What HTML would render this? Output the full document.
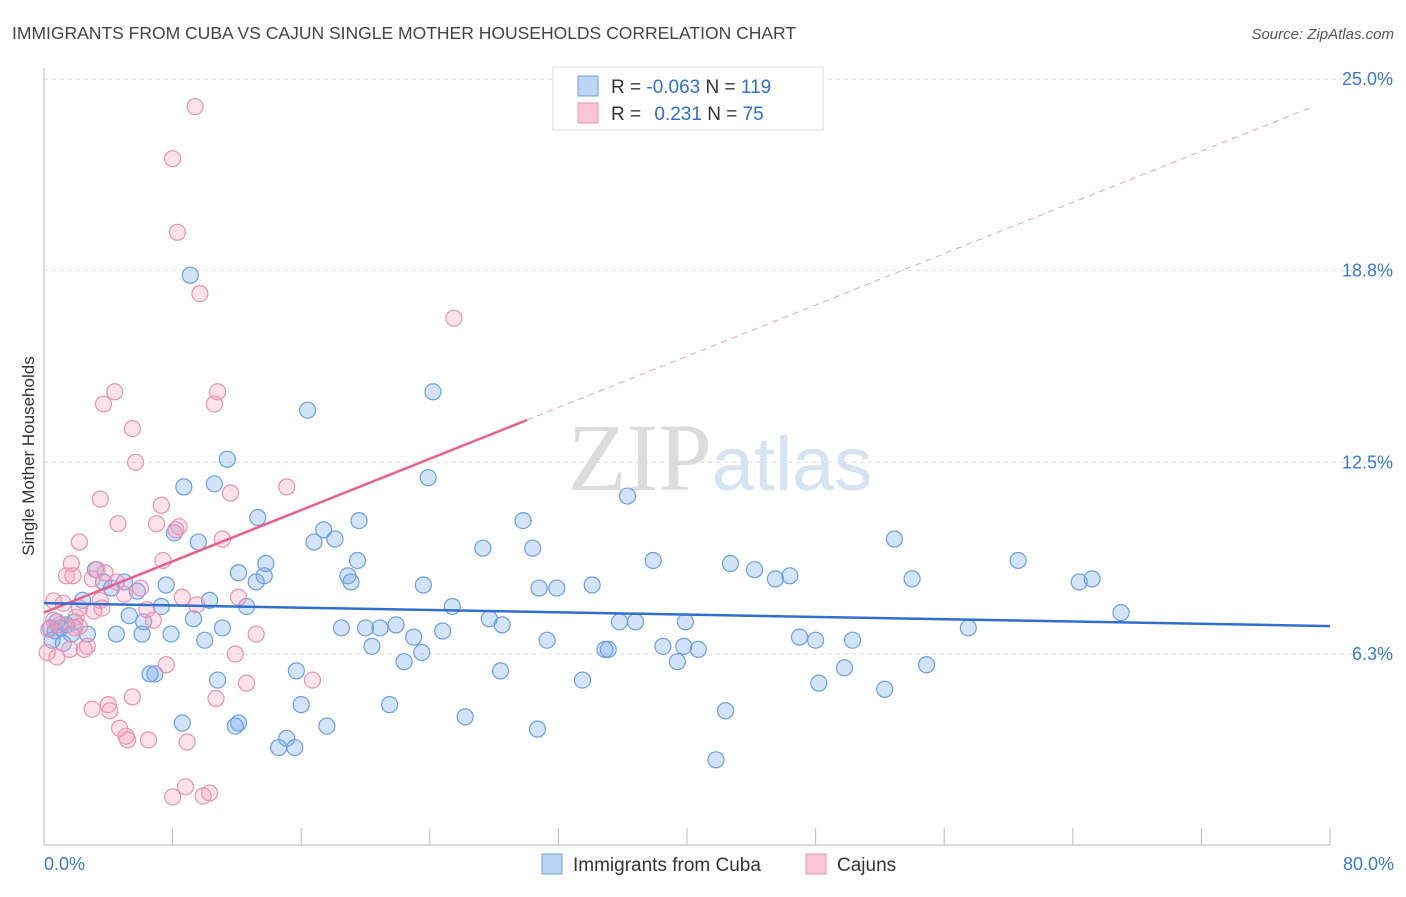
<!DOCTYPE html>
<html><head><meta charset="utf-8"><style>
body{margin:0;background:#fff;font-family:"Liberation Sans",sans-serif;}
</style></head><body>
<svg id="chart" width="1406" height="892" xmlns="http://www.w3.org/2000/svg" font-family="Liberation Sans, sans-serif">
<text x="12" y="39" font-size="17.5" fill="#444">IMMIGRANTS FROM CUBA VS CAJUN SINGLE MOTHER HOUSEHOLDS CORRELATION CHART</text>
<text x="1394" y="39" font-size="15" fill="#555" font-style="italic" text-anchor="end">Source: ZipAtlas.com</text>
<text x="720" y="490" font-size="96" text-anchor="middle" fill="#e6e6e6"><tspan font-family="Liberation Serif, serif" fill="#dcdcdc">ZIP</tspan><tspan fill="#d5e3f3" font-size="76">atlas</tspan></text>
<g id="grid"></g><g id="axes"></g><g id="marks"></g>
<text transform="translate(34,456) rotate(-90)" font-size="17" fill="#333" text-anchor="middle">Single Mother Households</text>
<g>
<rect x="553" y="67" width="270" height="63" fill="#fff" stroke="#ddd"/>
<rect x="578" y="76" width="20" height="20" fill="#bcd5f5" stroke="#6a9fe0"/>
<rect x="578" y="103" width="20" height="20" fill="#f9c6d6" stroke="#e993b0"/>
<text x="611" y="93" font-size="19" fill="#333">R = <tspan fill="#2f6fd0">-0.063</tspan>   N = <tspan fill="#2f6fd0">119</tspan></text>
<text x="611" y="120" font-size="19" fill="#333">R =   <tspan fill="#2f6fd0" dx="8">0.231</tspan>   N =  <tspan fill="#2f6fd0">75</tspan></text>
</g>
<g>
<rect x="542" y="854" width="20" height="20" fill="#bcd5f5" stroke="#6a9fe0"/>
<text x="573" y="871" font-size="19" fill="#333">Immigrants from Cuba</text>
<rect x="806" y="854" width="20" height="20" fill="#f9c6d6" stroke="#e993b0"/>
<text x="837" y="871" font-size="19" fill="#333">Cajuns</text>
</g>
</svg>
<script>
const NS="http://www.w3.org/2000/svg";
const yTicks=[6.25,12.5,18.75,25];
const yTickLabels=["6.3%","12.5%","18.8%","25.0%"];
const xTickVals=[0,10,20,30,40,50,60,70,80];
const cubaX=[9.1,16.4,24.2,23.9,36.3,11.4,8.7,10.6,13.3,17.4,19.6,16.8,18.1,9.6,8.1,29.8,27.3,30.4,52.9,37.9,42.7,44.2,60.6,19.5,13.8,12.1,13.7,18.9,19.1,13.2,23.6,30.8,31.9,34.1,45.5,46.4,54.0,64.4,65.2,67.0,3.2,5.0,3.7,4.2,5.8,7.6,10.3,7.3,12.6,5.3,6.2,9.3,25.4,27.7,28.5,35.8,36.8,39.9,11.1,18.5,20.0,20.9,21.9,23.0,24.8,31.3,38.5,39.8,40.7,47.0,48.0,50.3,57.5,34.9,35.1,39.4,20.4,23.5,22.4,15.7,28.4,49.8,54.9,6.9,6.6,10.8,33.5,48.2,52.3,16.0,21.5,42.4,26.2,12.1,17.6,8.6,11.9,15.1,30.7,14.6,15.6,41.8,0.4,0.7,1.0,1.4,1.9,2.4,1.7,2.7,0.5,4.5,6.1,7.9,10.0,1.2,0.8];
const cubaY=[18.6,14.2,14.8,12.0,11.4,12.6,11.7,11.8,10.7,10.3,10.6,9.9,10.0,9.9,10.2,10.6,9.7,9.7,10.0,9.3,9.2,9.0,9.3,9.3,9.2,8.9,8.8,8.8,8.6,8.6,8.5,8.4,8.4,8.5,8.7,8.8,8.7,8.6,8.7,7.6,9.0,8.6,8.6,8.4,8.3,8.5,8.0,7.8,7.8,7.5,7.3,7.4,7.8,7.4,7.2,7.3,7.3,7.3,7.1,7.1,7.1,7.1,7.2,6.8,7.0,6.7,6.5,6.5,6.4,6.8,6.7,6.7,7.1,6.4,6.4,6.0,6.5,6.3,6.0,5.7,5.7,5.8,5.9,5.6,5.6,5.4,5.4,5.3,5.1,4.6,4.6,4.4,4.2,4.0,3.9,4.0,3.9,3.5,3.8,3.2,3.2,2.8,7.1,7.0,7.1,7.2,7.3,8.0,6.9,6.9,6.7,6.9,6.9,6.9,6.7,6.6,7.3];
const cajunX=[9.4,8.0,8.3,9.7,25.5,4.4,3.7,10.8,10.6,5.5,5.7,11.6,15.1,3.5,7.3,4.6,7.0,8.4,11.1,8.2,2.2,7.4,1.7,1.4,1.8,3.3,3.8,3.0,6.0,5.0,4.5,8.6,12.1,0.6,1.2,3.6,3.1,6.4,9.5,6.8,2.0,0.6,1.0,2.2,0.3,13.2,2.7,2.5,1.6,0.8,0.2,11.9,7.6,16.7,12.6,5.5,10.7,3.0,4.0,4.1,4.7,6.5,5.2,5.1,8.9,8.8,8.0,9.9,10.3,3.5,2.2,1.9];
const cajunY=[24.1,22.4,20.0,18.0,17.2,14.8,14.4,14.8,14.4,13.6,12.5,11.5,11.7,11.3,11.1,10.5,10.5,10.4,10.0,10.3,9.9,9.3,9.2,8.8,8.8,9.0,8.9,8.7,8.4,8.2,8.6,8.1,8.1,7.98,7.9,7.75,7.65,7.7,7.85,7.35,7.45,7.35,7.2,7.15,7.05,6.9,6.5,6.4,6.4,6.15,6.3,6.25,5.9,5.4,5.3,4.85,4.8,4.45,4.6,4.4,3.83,3.45,3.45,3.57,3.38,1.92,1.59,1.62,1.72,8.0,7.75,7.1];
const cubaLine=[7.91,7.16];
const cajunLine=[7.6,13.88];
const cajunLineEnd=30.05;
const X0=44,X1=1330,Y0=845.7,PPY=30.67;
const xs=v=>X0+v/80*(X1-X0);
const ys=v=>Y0-v*PPY;
function mk(tag,attrs,parent){const e=document.createElementNS(NS,tag);for(const k in attrs)e.setAttribute(k,attrs[k]);parent.appendChild(e);return e;}
const grid=document.getElementById('grid'),axes=document.getElementById('axes'),marks=document.getElementById('marks');
yTicks.forEach((t,i)=>{
 const l=mk('line',{x1:44,x2:1394,y1:ys(t),y2:ys(t),stroke:'#ddd','stroke-dasharray':'4,4'},grid);
 
 
 const tx=mk('text',{x:1393,y:ys(t)+6,'font-size':18,fill:'#3a78d4','text-anchor':'end'},axes);
 tx.textContent=yTickLabels[i];
 
 
});
const xa=mk('line',{x1:44,x2:1330,y1:845,y2:845,stroke:'#bbb'},axes);


const ya=mk('line',{x1:44,x2:44,y1:68,y2:845,stroke:'#bbb'},axes);


for(let k=0;k<=10;k++){const v=k*8;
 const t=mk('line',{x1:xs(v),x2:xs(v),y1:828,y2:845,stroke:'#bbb'},axes);
 
 }
const xl0=mk('text',{x:44,y:870,'font-size':18,fill:'#3a78d4'},axes);xl0.textContent='0.0%';


const xl1=mk('text',{x:1394,y:870,'font-size':18,fill:'#3a78d4','text-anchor':'end'},axes);xl1.textContent='80.0%';


cubaX.forEach((x,i)=>{const c=mk('circle',{cx:xs(x),cy:ys(cubaY[i]),r:8,fill:'rgba(110,165,235,0.3)',stroke:'#6a9fe0','stroke-width':1.2},marks);
 
 });
cajunX.forEach((x,i)=>{const c=mk('circle',{cx:xs(x),cy:ys(cajunY[i]),r:8,fill:'rgba(245,160,190,0.3)',stroke:'#e993b0','stroke-width':1.2},marks);
 
 });
const slope=(cajunLine[1]-cajunLine[0])/cajunLineEnd;
const dl=mk('line',{x1:xs(cajunLineEnd),y1:ys(cajunLine[1]),x2:xs(79),y2:ys(cajunLine[0]+slope*79),stroke:'#f0a0b8','stroke-dasharray':'6,5','stroke-width':1},marks);


const pl=mk('line',{x1:xs(0),y1:ys(cajunLine[0]),x2:xs(cajunLineEnd),y2:ys(cajunLine[1]),stroke:'#e8608e','stroke-width':2.5},marks);


const bl=mk('line',{x1:xs(0),y1:ys(cubaLine[0]),x2:xs(80),y2:ys(cubaLine[1]),stroke:'#2f6fd0','stroke-width':2.5},marks);


</script>
</body></html>
